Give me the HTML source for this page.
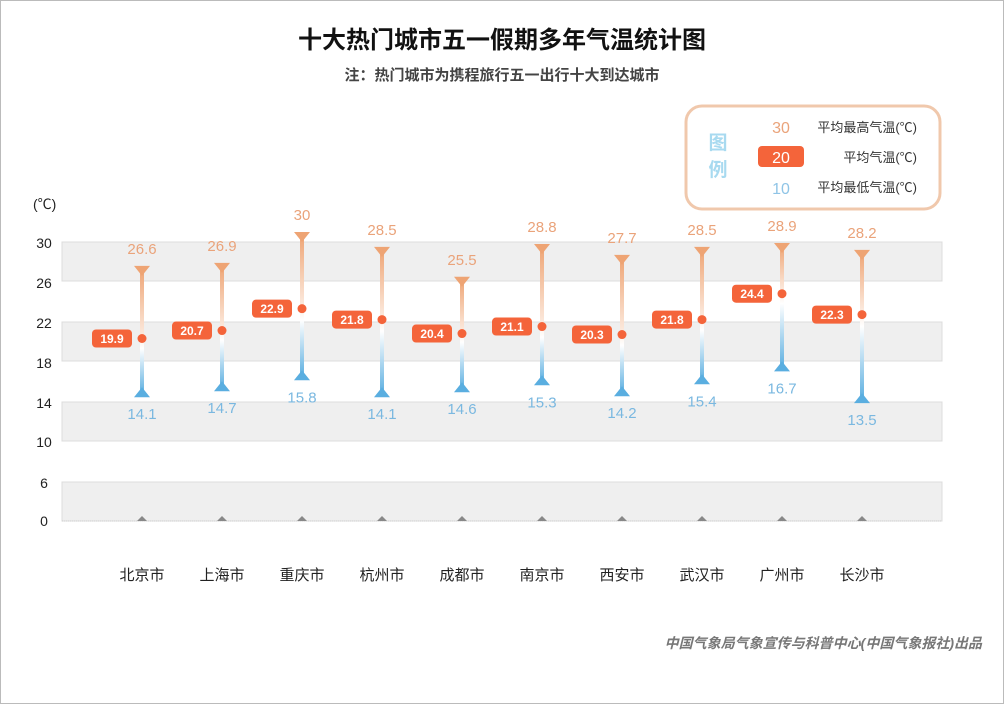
<!DOCTYPE html>
<html><head><meta charset="utf-8">
<style>
html,body{margin:0;padding:0;background:#fff}
svg{display:block;font-family:"Liberation Sans","Noto Sans CJK SC",sans-serif}
</style></head>
<body>
<svg id="s" width="1004" height="704" viewBox="0 0 1004 704" xmlns="http://www.w3.org/2000/svg">
<defs id="defs"></defs>
<rect x="0.5" y="0.5" width="1003" height="703" fill="#fff" stroke="#bbb"/>
<text x="502" y="48" text-anchor="middle" font-size="24" font-weight="bold" fill="#111">十大热门城市五一假期多年气温统计图</text>
<text x="502" y="80" text-anchor="middle" font-size="15" font-weight="bold" fill="#444">注：热门城市为携程旅行五一出行十大到达城市</text>
<rect x="686" y="106" width="254" height="103" rx="16" fill="#fff" stroke="#f0c8ac" stroke-width="3"/>
<text x="718" y="149" text-anchor="middle" font-size="19" font-weight="bold" fill="#a8daf0">图</text>
<text x="718" y="176" text-anchor="middle" font-size="19" font-weight="bold" fill="#a8daf0">例</text>
<text x="781" y="133" text-anchor="middle" font-size="16" fill="#eaa37a">30</text>
<rect x="758" y="146" width="46" height="21" rx="4" fill="#f4643a"/>
<text x="781" y="163" text-anchor="middle" font-size="16" fill="#fff">20</text>
<text x="781" y="194" text-anchor="middle" font-size="16" fill="#8fc4e6">10</text>
<text x="917" y="132" text-anchor="end" font-size="13" fill="#333">平均最高气温(℃)</text>
<text x="917" y="162" text-anchor="end" font-size="13" fill="#333">平均气温(℃)</text>
<text x="917" y="192" text-anchor="end" font-size="13" fill="#333">平均最低气温(℃)</text>
<text x="33" y="209" font-size="14" fill="#222">(℃)</text>
<g fill="#efefef" stroke="#dcdcdc">
<rect x="62" y="242" width="880" height="39"/>
<rect x="62" y="322" width="880" height="39"/>
<rect x="62" y="402" width="880" height="39"/>
<rect x="62" y="482" width="880" height="39"/>
</g>
<line x1="62" y1="521" x2="942" y2="521" stroke="#ccc" stroke-dasharray="1 1"/>
<g font-size="14" fill="#222" text-anchor="middle">
<text x="44" y="248">30</text><text x="44" y="288">26</text><text x="44" y="328">22</text>
<text x="44" y="368">18</text><text x="44" y="408">14</text><text x="44" y="447">10</text>
<text x="44" y="488">6</text><text x="44" y="526">0</text>
</g>
<g id="bars"></g>
<text x="982" y="648" text-anchor="end" font-size="14" font-weight="bold" font-style="italic" fill="#777">中国气象局气象宣传与科普中心(中国气象报社)出品</text>
</svg>
<script>
var d=[["北京市",26.6,19.9,14.1],["上海市",26.9,20.7,14.7],["重庆市",30,22.9,15.8],["杭州市",28.5,21.8,14.1],["成都市",25.5,20.4,14.6],["南京市",28.8,21.1,15.3],["西安市",27.7,20.3,14.2],["武汉市",28.5,21.8,15.4],["广州市",28.9,24.4,16.7],["长沙市",28.2,22.3,13.5]];
function y(v){return 441-(v-10)*9.95;}
var h="",g="";
d.forEach(function(r,i){
var x=142+80*i,yh=y(r[1]),ya=y(r[2])-4,yl=y(r[3]);
var top=yh-8,bot=yl-6;
var f=(ya-top)/(bot-top);
g+='<linearGradient id="g'+i+'" x1="0" y1="0" x2="0" y2="1"><stop offset="0" stop-color="#eea474"/><stop offset="'+Math.max(0,f-0.05)+'" stop-color="#fbe6d8"/><stop offset="'+Math.min(1,f+0.08)+'" stop-color="#ffffff"/><stop offset="1" stop-color="#5aaee0"/></linearGradient>';
h+='<rect x="'+(x-2)+'" y="'+top+'" width="4" height="'+(bot-top)+'" fill="url(#g'+i+')"/>';
h+='<polygon points="'+(x-8)+','+(yh-10)+' '+(x+8)+','+(yh-10)+' '+x+','+(yh)+'" fill="#eea474"/>';
h+='<polygon points="'+(x-8)+','+(yl-3)+' '+(x+8)+','+(yl-3)+' '+x+','+(yl-13)+'" fill="#5aaee0"/>';
h+='<circle cx="'+x+'" cy="'+ya+'" r="4.5" fill="#f4643a"/>';
h+='<text x="'+x+'" y="'+(yh-22)+'" text-anchor="middle" font-size="15" fill="#eaa37a">'+r[1]+'</text>';
h+='<text x="'+x+'" y="'+(yl+19)+'" text-anchor="middle" font-size="15" fill="#7ab8e0">'+r[3]+'</text>';
h+='<rect x="'+(x-50)+'" y="'+(ya-9)+'" width="40" height="18" rx="4" fill="#f4643a"/>';
h+='<text x="'+(x-30)+'" y="'+(ya+4.5)+'" text-anchor="middle" font-size="12" font-weight="bold" fill="#fff">'+r[2]+'</text>';
h+='<polygon points="'+(x-5)+',521 '+(x+5)+',521 '+x+',516" fill="#888"/>';
h+='<text x="'+x+'" y="580" text-anchor="middle" font-size="15" fill="#222">'+r[0]+'</text>';
});
document.getElementById("defs").innerHTML=g;
document.getElementById("bars").innerHTML=h;
</script>
</body></html>
